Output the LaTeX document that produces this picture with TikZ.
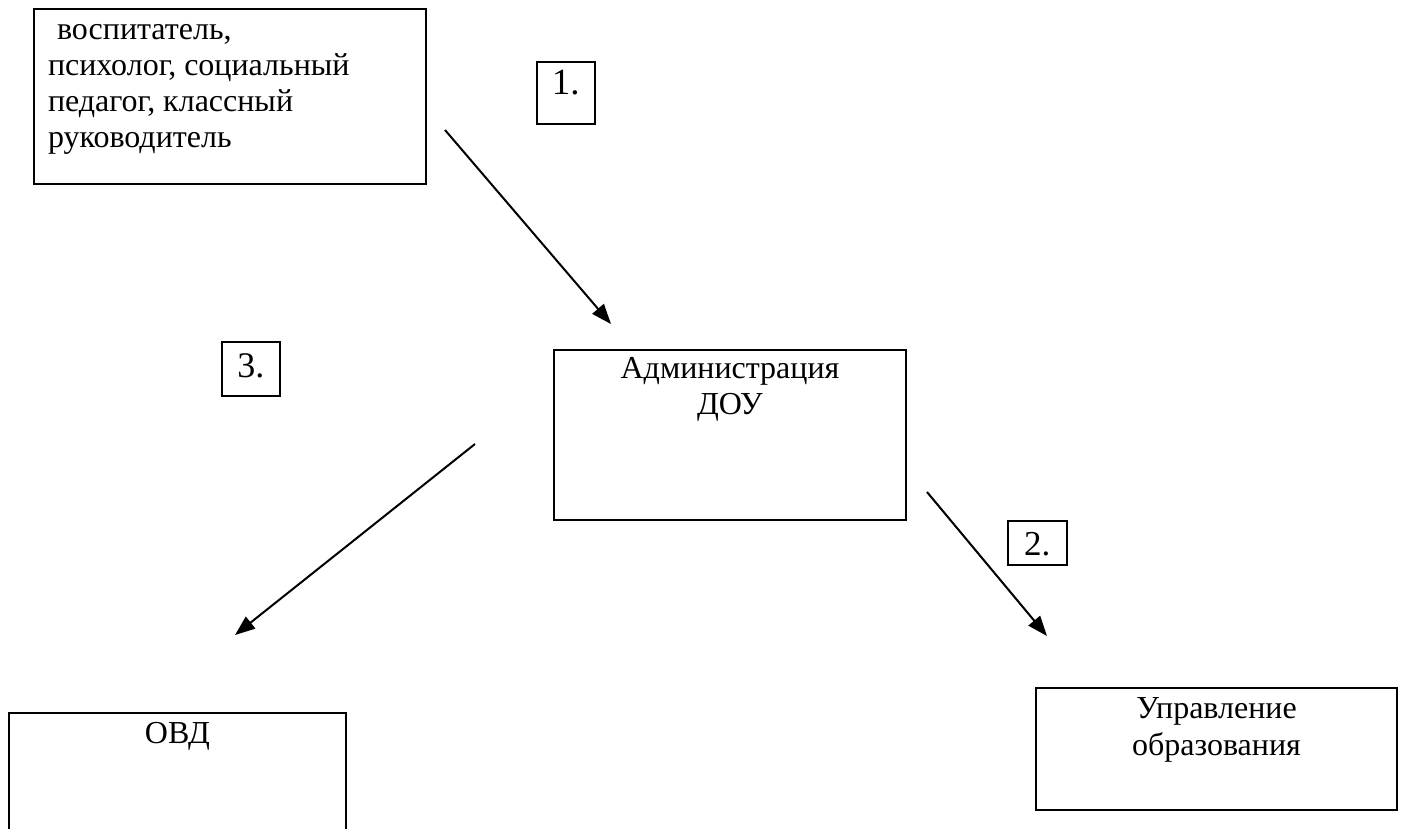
\documentclass[tikz,border=0pt]{standalone}
\usepackage{fontspec}
\setmainfont{Liberation Serif}
\usetikzlibrary{arrows.meta}
\newcommand{\bodyfont}{\fontsize{32}{36}\selectfont}
\begin{document}
\begin{tikzpicture}[x=1pt,y=-1pt,
  box/.style={draw, line width=2pt, inner sep=0pt, anchor=north west},
  numbox/.style={draw, line width=1.6pt, inner xsep=0pt, inner ysep=0pt, anchor=north west, font=\fontsize{37}{40}\selectfont},
  arr/.style={line width=2pt, -{Triangle[length=20pt,width=15pt]}}]
\useasboundingbox (0,0) rectangle (1402,829);
\fill[white] (0,0) rectangle (1402,829);
% boxes
\node[box] (staff) at (33,8) {\parbox[t][175pt][t]{392pt}{\raggedright\bodyfont\rule{0pt}{31pt}\hspace*{23pt}воспитатель,\\\hspace*{14pt}психолог, социальный\\\hspace*{14pt}педагог, классный\\\hspace*{14pt}руководитель}};
\node[box] (admin) at (553,349) {\parbox[t][170pt][t]{352pt}{\centering\bodyfont\rule{0pt}{28pt}Администрация\\ДОУ}};
\node[box] (ovd) at (8,712) {\parbox[t][140pt][t]{337pt}{\centering\bodyfont\rule{0pt}{30pt}ОВД}};
\node[box] (upr) at (1035,687) {\parbox[t][122pt][t]{361pt}{\centering\fontsize{32}{37}\selectfont\rule{0pt}{30pt}Управление\\образования}};
% number labels
\node[numbox, minimum width=58pt, text height=33pt, text depth=29pt] (n1) at (536,61) {1.};
\node[numbox, minimum width=58pt, text height=36pt, text depth=18pt, font=\fontsize{36}{40}\selectfont] (n3) at (221,341) {3.};
\node[numbox, minimum width=59pt, text height=35pt, text depth=9pt, font=\fontsize{35}{40}\selectfont] (n2) at (1007,520) {2.};
% arrows
\coordinate (a1s) at (445,130);
\coordinate (a1e) at (611,324);
\coordinate (a3s) at (475,444);
\coordinate (a3e) at (235,635);
\coordinate (a2s) at (927,492);
\coordinate (a2e) at (1047,636);
\draw[arr] (a1s) -- (a1e);
\draw[arr] (a3s) -- (a3e);
\draw[arr] (a2s) -- (a2e);
\end{tikzpicture}
\end{document}
